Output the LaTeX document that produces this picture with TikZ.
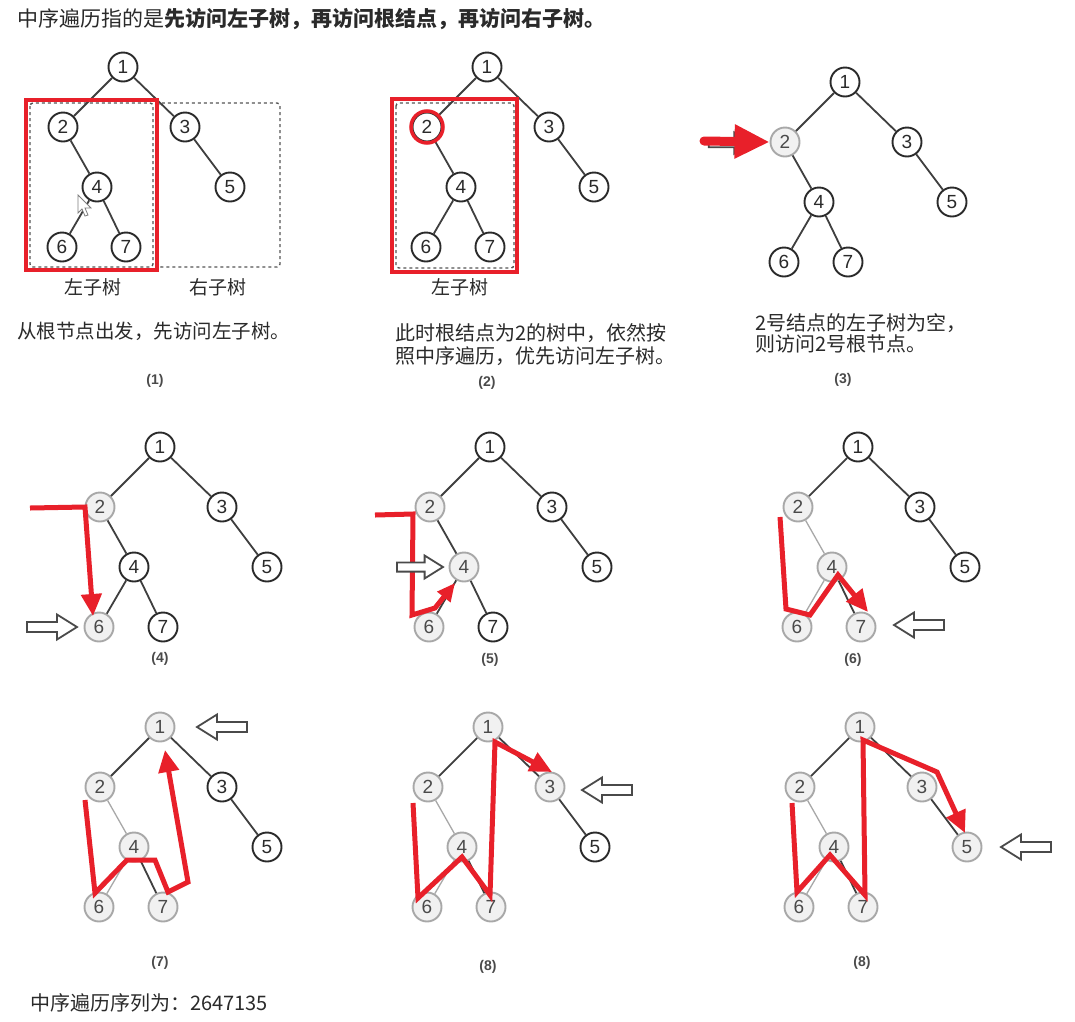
\documentclass[tikz,border=0pt]{standalone}
\usepackage{fontspec}
\setmainfont{Noto Sans CJK SC}
\newfontfamily\numfont{Liberation Sans}
\usetikzlibrary{arrows.meta}
\definecolor{rd}{HTML}{E8202A}
\definecolor{ink}{HTML}{2A2A2A}
\definecolor{lg}{HTML}{A8A8A8}
\definecolor{gf}{HTML}{F1F1F1}
\newcommand\fsz[1]{\fontsize{#1}{#1}\selectfont}
\tikzset{
  nd/.style={circle, draw=ink, line width=1.9, fill=white, minimum size=29, inner sep=0,
             font=\numfont\fsz{19}, text=ink},
  gnd/.style={nd, draw=lg, fill=gf, text=ink!85},
  ed/.style={draw=ink!90, line width=1.8},
  led/.style={draw=lg, line width=1.3},
  n1/.style={nd}, n2/.style={nd}, n3/.style={nd}, n4/.style={nd},
  n5/.style={nd}, n6/.style={nd}, n7/.style={nd},
  e12/.style={ed}, e13/.style={ed}, e24/.style={ed}, e35/.style={ed},
  e46/.style={ed}, e47/.style={ed},
  rpath/.style={draw=rd, line width=5, -{Triangle[length=22pt,width=20pt]}},
  rbox/.style={draw=rd, line width=3.5},
  dbox/.style={draw=ink!80, line width=1.4, dash pattern=on 3pt off 3pt, rounded corners=3},
  txt/.style={anchor=west, inner sep=0, text=ink, font=\fsz{20}},
  lbl/.style={inner sep=0, text=ink, font=\fsz{19}},
  num/.style={inner sep=0, text=ink!85, font=\numfont\bfseries\fsz{14}},
  hol/.style={draw=ink!85, fill=white, line width=1.8},
  hollow/.pic={\draw[hol] (-25,-5) -- (5,-5) -- (5,-12.5) -- (25,0) -- (5,12.5) -- (5,5) -- (-25,5) -- cycle;},
}
\newcommand\drawtree[3]{%
  \begin{scope}[shift={(#2,#3)}]
    \node[n1] (#1-1) at (0,0) {1};
    \node[n2] (#1-2) at (-60,60) {2};
    \node[n3] (#1-3) at (62,60) {3};
    \node[n4] (#1-4) at (-26,120) {4};
    \node[n5] (#1-5) at (107,120) {5};
    \node[n6] (#1-6) at (-61,180) {6};
    \node[n7] (#1-7) at (3,180) {7};
  \end{scope}
  \draw[e12] (#1-1) -- (#1-2);
  \draw[e13] (#1-1) -- (#1-3);
  \draw[e24] (#1-2) -- (#1-4);
  \draw[e35] (#1-3) -- (#1-5);
  \draw[e46] (#1-4) -- (#1-6);
  \draw[e47] (#1-4) -- (#1-7);
}
\begin{document}
\begin{tikzpicture}[x=1pt, y=-1pt]
\fill[white] (0,0) rectangle (1075,1021);
\useasboundingbox (0,0) rectangle (1075,1021);

% header
\node[txt, font=\fsz{21}] (head) at (17,19) {中序遍历指的是\textbf{先访问左子树，再访问根结点，再访问右子树。}};

% ---------- panel 1
\draw[dbox] (30,103) rectangle (153,267);
\draw[dbox] (158,103) rectangle (280,267);
\drawtree{pa}{123}{67}
\draw[rbox] (26,100) rectangle (157,270);
\draw[ink!60, fill=white, line width=0.8] (78,195) -- (78,213) -- (82,209) -- (85,216) -- (88,215) -- (85,208) -- (91,208) -- cycle;
\node[lbl] (pa-l) at (93,287) {左子树};
\node[lbl] (pa-r) at (218,287) {右子树};
\node[txt, font=\fsz{19.5}] (pa-t) at (17,331) {从根节点出发，先访问左子树。};
\node[num] (pa-n) at (155,381) {(1)};

% ---------- panel 2
\draw[dbox] (396,103) rectangle (514,268);
\drawtree{pb}{487}{67}
\draw[rbox] (392,99) rectangle (517,272);
\draw[draw=rd, line width=3.5] (pb-2) circle (16);
\node[lbl] (pb-l) at (460,287) {左子树};
\node[txt] (pb-t1) at (395,333) {此时根结点为2的树中，依然按};
\node[txt] (pb-t2) at (395,356) {照中序遍历，优先访问左子树。};
\node[num] (pb-n) at (487,383) {(2)};

% ---------- panel 3
\begin{scope}[n2/.style={gnd}]
\drawtree{pc}{845}{82}
\end{scope}
\pic[scale=0.85] at (730,143) {hollow};
\coordinate (pc-s) at (704,141);
\draw[draw=rd, line width=9, line cap=round, -{Triangle[length=35pt,width=32pt]}] (pc-s) -- (pc-2.west);
\node[txt] (pc-t1) at (755,323) {2号结点的左子树为空，};
\node[txt] (pc-t2) at (755,344) {则访问2号根节点。};
\node[num] (pc-n) at (843,380) {(3)};

% ---------- panel 4
\begin{scope}[n2/.style={gnd}, n6/.style={gnd}]
\drawtree{pd}{160}{447}
\end{scope}
\draw[rpath] (30,508) -- (85,507) -- (93,616);
\pic at (52,627) {hollow};
\node[num] (pd-n) at (160,659) {(4)};

% ---------- panel 5
\begin{scope}[n2/.style={gnd}, n4/.style={gnd}, n6/.style={gnd}]
\drawtree{pe}{490}{447}
\end{scope}
\draw[rpath, -{Triangle[length=18pt,width=16pt]}] (375,515) -- (413,514) -- (412,615) -- (435,608) -- (455,583);
\pic[scale=0.92] at (420,567) {hollow};
\node[num] (pe-n) at (490,660) {(5)};

% ---------- panel 6
\begin{scope}[n2/.style={gnd}, n4/.style={gnd}, n6/.style={gnd}, n7/.style={gnd}, e24/.style={led}, e46/.style={led}]
\drawtree{pf}{858}{447}
\end{scope}
\draw[rpath] (780,517) -- (786,609) -- (810,615) -- (838,575) -- (868,612);
\pic[rotate=180] at (919,625) {hollow};
\node[num] (pf-n) at (853,660) {(6)};

% ---------- panel 7
\begin{scope}[n1/.style={gnd}, n2/.style={gnd}, n4/.style={gnd}, n6/.style={gnd}, n7/.style={gnd}, e24/.style={led}, e46/.style={led}]
\drawtree{pg}{160}{727}
\end{scope}
\draw[rpath] (85,800) -- (95,893) -- (127,860) -- (155,860) -- (168,892) -- (188,882) -- (165,750);
\pic[rotate=180] at (222,727) {hollow};
\node[num] (pg-n) at (160,963) {(7)};

% ---------- panel 8a
\begin{scope}[n1/.style={gnd}, n2/.style={gnd}, n3/.style={gnd}, n4/.style={gnd}, n6/.style={gnd}, n7/.style={gnd}, e24/.style={led}, e46/.style={led}]
\drawtree{ph}{488}{727}
\end{scope}
\draw[rpath] (413,803) -- (418,898) -- (462,857) -- (490,895) -- (495,742) -- (552,772);
\pic[rotate=180] at (607,790) {hollow};
\node[num] (ph-n) at (488,967) {(8)};

% ---------- panel 8b
\begin{scope}[n1/.style={gnd}, n2/.style={gnd}, n3/.style={gnd}, n4/.style={gnd}, n5/.style={gnd}, n6/.style={gnd}, n7/.style={gnd}, e24/.style={led}, e46/.style={led}]
\drawtree{pi}{860}{727}
\end{scope}
\draw[rpath] (792,803) -- (797,892) -- (830,855) -- (865,895) -- (863,740) -- (937,772) -- (965,833);
\pic[rotate=180] at (1026,847) {hollow};
\node[num] (pi-n) at (862,963) {(8)};

% footer
\node[txt] (foot) at (30,1003) {中序遍历序列为：2647135};
\end{tikzpicture}
\end{document}
